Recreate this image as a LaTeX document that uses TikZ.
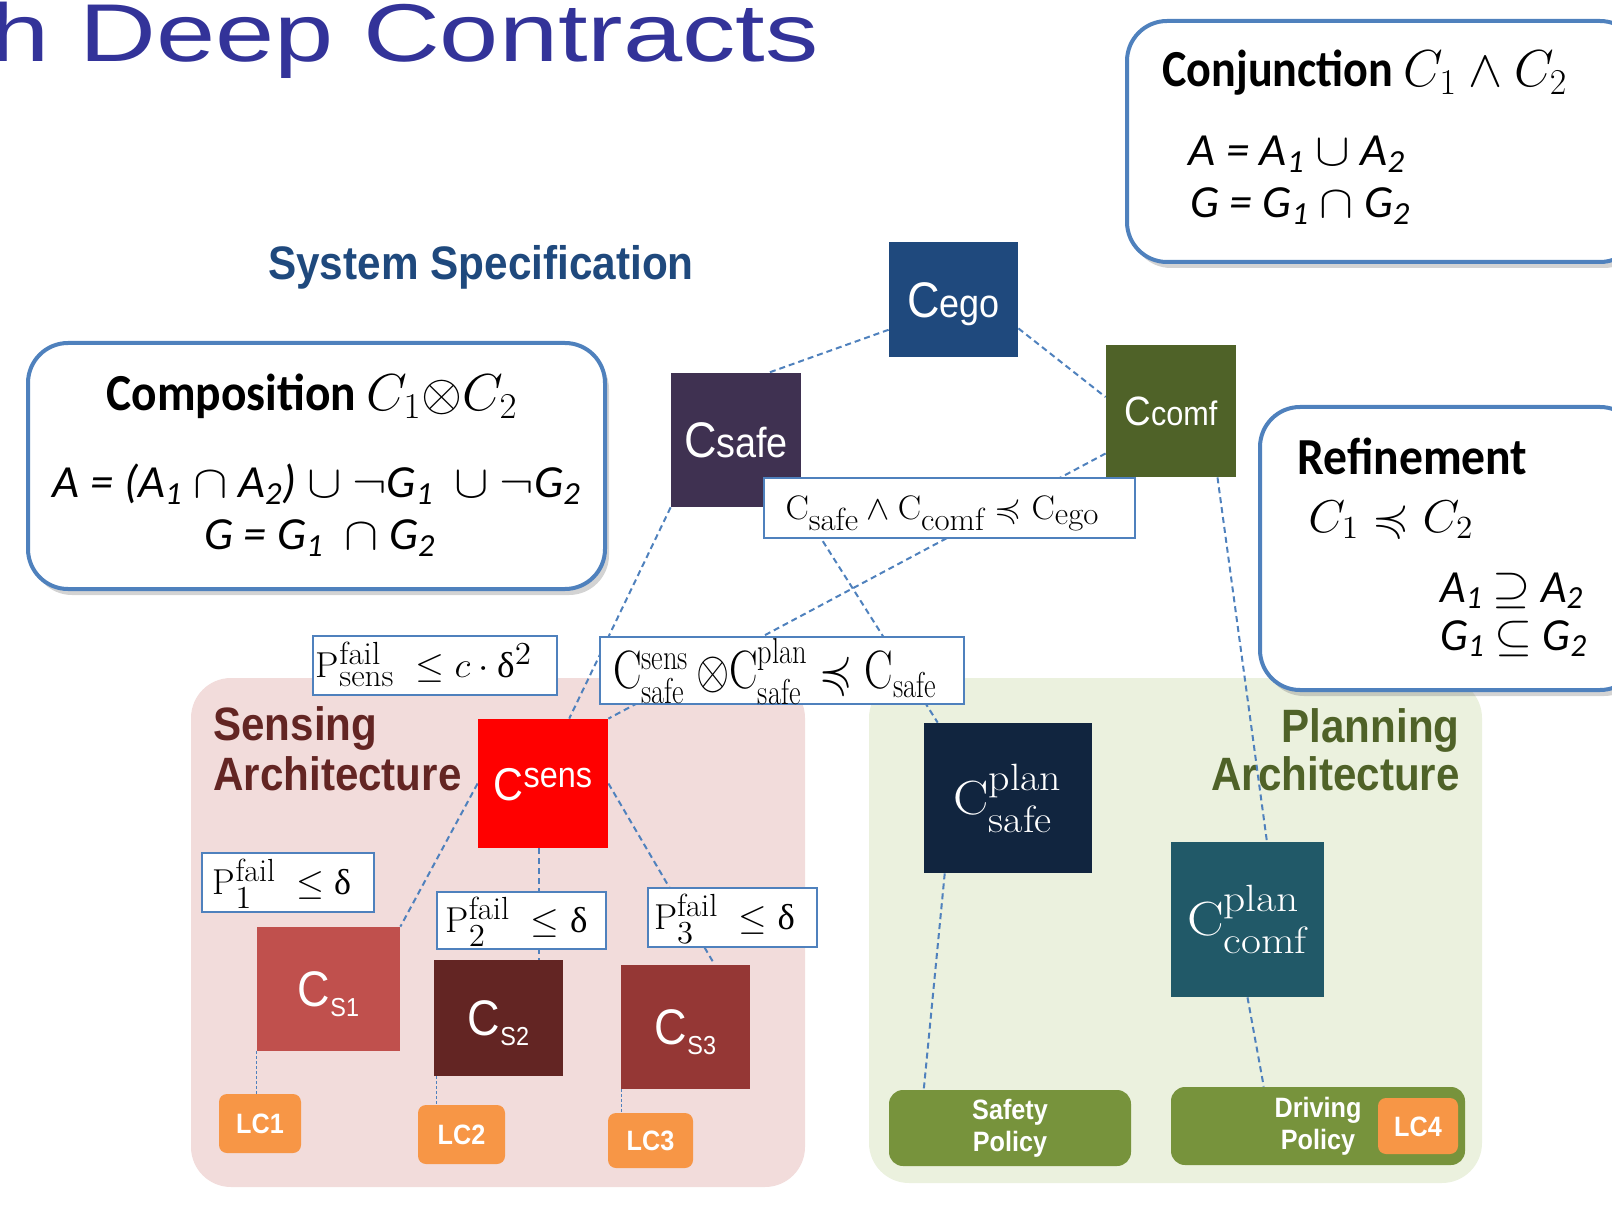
\documentclass[tikz,border=0pt]{standalone}
\usepackage{fix-cm}
\usepackage{amsmath, amssymb}
\usepackage{graphicx}
\usepackage{fontspec}
\usepackage{tikz}
\usetikzlibrary{positioning, shadows, backgrounds}
\newfontfamily\arial[FakeStretch=0.9]{Liberation Sans}
\newfontfamily\arialplain{Liberation Sans}
\newfontfamily\calibri[FakeStretch=0.9]{Carlito}
\newfontfamily\greekserif{Liberation Serif}
\DeclareMathSizes{17}{17}{16}{12}
\DeclareMathSizes{18}{18}{16}{12}
\DeclareMathSizes{24}{24}{19}{14}
\DeclareMathSizes{27}{27}{18}{13}
\newcommand{\fitw}[2]{\resizebox{#1}{\height}{#2}}
\definecolor{titleblue}{RGB}{51,51,153}
\definecolor{specblue}{RGB}{31,73,125}
\definecolor{linkblue}{RGB}{79,129,189}
\definecolor{egoblue}{RGB}{31,73,125}
\definecolor{safepurple}{RGB}{63,49,81}
\definecolor{comfgreen}{RGB}{79,98,40}
\definecolor{sensred}{RGB}{255,0,0}
\definecolor{plansafe}{RGB}{17,37,63}
\definecolor{plancomf}{RGB}{33,89,104}
\definecolor{sonered}{RGB}{192,80,77}
\definecolor{stwored}{RGB}{99,37,35}
\definecolor{sthreered}{RGB}{149,55,53}
\definecolor{lcorange}{RGB}{247,150,70}
\definecolor{policygreen}{RGB}{119,147,60}
\definecolor{sensbg}{RGB}{242,220,219}
\definecolor{planbg}{RGB}{235,241,222}
\definecolor{sensdark}{RGB}{99,37,35}
\definecolor{plandark}{RGB}{79,98,40}

\begin{document}
\begin{tikzpicture}[x=0.5pt, y=-0.5pt,
  contract/.style={rectangle, inner sep=0pt, text=white, text depth=0pt, font=\arial},
  lcbox/.style={rectangle, rounded corners=4pt, fill=lcorange, inner sep=0pt, text=white,
                text height=10pt, text depth=0pt, font={\arial\bfseries\fontsize{14}{16}\selectfont}},
  policy/.style={rectangle, rounded corners=7pt, fill=policygreen, inner sep=0pt, text=white,
                 align=center, font={\arial\bfseries\fontsize{14}{16}\selectfont}},
  fact/.style={rectangle, draw=linkblue, line width=0.75pt, fill=white, inner sep=0pt, text depth=0pt},
  infobox/.style={rectangle, draw=linkblue, line width=2pt, fill=white, rounded corners=20pt,
                  drop shadow={shadow xshift=2pt, shadow yshift=-3pt, opacity=0.35}},
  zone/.style={rectangle, rounded corners=20pt, inner sep=0pt},
  archtext/.style={inner sep=0pt, font={\arial\bfseries\fontsize{23.4}{26}\selectfont}},
  boxhead/.style={inner sep=0pt, font={\calibri\bfseries\fontsize{26}{30}\selectfont}},
  formula/.style={inner sep=0pt, font={\calibri\itshape\fontsize{23}{27}\selectfont}},
  dashlink/.style={draw=linkblue, line width=1pt, dash pattern=on 3pt off 2pt},
  finelink/.style={draw=linkblue, line width=0.5pt, dash pattern=on 1.5pt off 1pt}
]
\useasboundingbox (0,0) rectangle (1612,1208);

% slide title and heading
\node[anchor=base east, inner sep=0pt, text=titleblue, font={\arialplain\fontsize{41}{48}\selectfont}] (title) at (819,62) {\fitw{414pt}{h Deep Contracts}};
\node[anchor=base, inner sep=0pt, text=specblue, font={\arial\bfseries\fontsize{23.5}{28}\selectfont}] (spec) at (481,280) {System Specification};

% contract operators
\node[infobox, minimum width=256.5pt, minimum height=120.5pt] (conjbox) at (1383.5,141.5) {};
\node[boxhead, anchor=base west] (conjhead) at (1162,87) {\fitw{202.5pt}{Conjunction $C_1 \wedge C_2$}};
\node[formula, anchor=base west] (conja) at (1188,166) {\fitw{108.5pt}{A = A\textsubscript{1} $\cup$ A\textsubscript{2}}};
\node[formula, anchor=base west] (conjg) at (1190,218) {\fitw{110pt}{G = G\textsubscript{1} $\cap$ G\textsubscript{2}}};

\node[infobox, minimum width=288.5pt, minimum height=123pt] (compbox) at (316.5,466) {};
\node[boxhead, anchor=base] (comphead) at (312,411) {\fitw{205.5pt}{Composition $C_1{\otimes}C_2$}};
\node[formula, anchor=base] (compa) at (317,498) {\fitw{264pt}{A = (A\textsubscript{1} $\cap$ A\textsubscript{2}) $\cup$ $\neg$G\textsubscript{1}\ \ $\cup$ $\neg$G\textsubscript{2}}};
\node[formula, anchor=base] (compg) at (320,550) {\fitw{115.5pt}{G = G\textsubscript{1}\ \ $\cap$ G\textsubscript{2}}};

\node[infobox, minimum width=190pt, minimum height=141.5pt] (refbox) at (1450,548.5) {};
\node[boxhead, anchor=base west] (refhead) at (1297,475) {\fitw{115pt}{Refinement}};
\node[anchor=base west, inner sep=0pt, font=\fontsize{23}{27}\selectfont] (refc) at (1308,532) {\fitw{82.5pt}{$C_1 \preccurlyeq C_2$}};
\node[formula, anchor=base west] (refa) at (1440,602) {\fitw{71.5pt}{A\textsubscript{1} $\supseteq$ A\textsubscript{2}}};
\node[formula, anchor=base west] (refg) at (1440,650) {\fitw{73.5pt}{G\textsubscript{1} $\subseteq$ G\textsubscript{2}}};

% contracts
\node[contract, fill=egoblue, minimum width=64.5pt, minimum height=57.5pt, text height=17.9pt] (ego) at (953.5,299.5)
  {\fontsize{25}{30}\selectfont C\fontsize{20}{24}\selectfont ego};
\node[contract, fill=safepurple, minimum width=65pt, minimum height=67pt, text height=17.9pt] (safe) at (736,440)
  {\fontsize{25}{30}\selectfont C\fontsize{21}{25}\selectfont safe};
\node[contract, fill=comfgreen, minimum width=65pt, minimum height=66pt, text height=14.6pt] (comf) at (1171,411)
  {\fontsize{20.5}{24}\selectfont C\fontsize{17}{20}\selectfont comf};
\node[contract, fill=sensred, minimum width=65pt, minimum height=64.5pt, text height=16.5pt] (sens) at (543,783.5)
  {\fontsize{23}{28}\selectfont C\raisebox{6.5pt}{\fontsize{18}{22}\selectfont sens}};
\node[contract, fill=plansafe, minimum width=84pt, minimum height=75pt, text height=16.4pt, font=\fontsize{24}{28}\selectfont] (plansafe) at (1008,798)
  {\fitw{54.5pt}{$\mathrm{C}^{\mathrm{plan}}_{\mathrm{safe}}$}};
\node[contract, fill=plancomf, minimum width=76.5pt, minimum height=77.5pt, text height=16.4pt, font=\fontsize{24}{28}\selectfont] (plancomf) at (1247.5,919.5)
  {\fitw{60.5pt}{$\mathrm{C}^{\mathrm{plan}}_{\mathrm{comf}}$}};
\node[contract, fill=sonered, minimum width=71.5pt, minimum height=62pt, text height=17.9pt] (s1) at (328.5,989)
  {\fontsize{25}{30}\selectfont C\raisebox{-4.75pt}{\fontsize{13}{15}\selectfont S1}};
\node[contract, fill=stwored, minimum width=64.5pt, minimum height=58pt, text height=17.9pt] (s2) at (498.5,1018)
  {\fontsize{25}{30}\selectfont C\raisebox{-4.75pt}{\fontsize{13}{15}\selectfont S2}};
\node[contract, fill=sthreered, minimum width=64.5pt, minimum height=62pt, text height=17.9pt] (s3) at (685.5,1027)
  {\fontsize{25}{30}\selectfont C\raisebox{-4.75pt}{\fontsize{13}{15}\selectfont S3}};

% local components and policies
\node[lcbox, minimum width=41pt, minimum height=29.5pt] (lc1) at (260,1123.5) {LC1};
\node[lcbox, minimum width=43.5pt, minimum height=29.5pt] (lc2) at (461.5,1134.5) {LC2};
\node[lcbox, minimum width=42.5pt, minimum height=27.5pt] (lc3) at (650.5,1140.5) {LC3};
\node[policy, minimum width=121pt, minimum height=38pt] (safety) at (1010,1128) {Safety\\Policy};
\node[policy, minimum width=147pt, minimum height=39pt] (driving) at (1318,1126) {Driving\\Policy};
\node[lcbox, minimum width=40pt, minimum height=28pt, left=3.5pt of driving.east] (lc4) {LC4};

% refinement facts
\node[fact, minimum width=185.5pt, minimum height=30pt, text height=11.6pt, font=\fontsize{17}{20}\selectfont] (ruleego) at (949.5,508)
  {\fitw{157pt}{$\mathrm{C}_{\mathrm{safe}}\wedge\mathrm{C}_{\mathrm{comf}}\preccurlyeq\mathrm{C}_{\mathrm{ego}}$}\kern7pt};
\node[fact, minimum width=182pt, minimum height=33.5pt, text height=18.4pt, font=\fontsize{27}{32}\selectfont] (rulesafe) at (782,670.5)
  {\fitw{162pt}{$\mathrm{C}^{\mathrm{sens}}_{\mathrm{safe}}\,{\otimes}\mathrm{C}^{\mathrm{plan}}_{\mathrm{safe}}\preccurlyeq\mathrm{C}_{\mathrm{safe}}$}\kern7pt};
\node[fact, minimum width=122pt, minimum height=29.5pt, text height=12.3pt, font=\fontsize{18}{22}\selectfont] (psens) at (435,665.5)
  {\fitw{108pt}{$\mathrm{P}^{\mathrm{fail}}_{\mathrm{sens}}\;\leq c\cdot\text{\greekserif δ}^2$}\kern11pt};
\node[fact, minimum width=86pt, minimum height=29.5pt, text height=12.3pt, font=\fontsize{18}{22}\selectfont] (p1) at (288,882.5)
  {\fitw{69pt}{$\mathrm{P}^{\mathrm{fail}}_{1}\;\leq\text{\greekserif δ}$}\kern6pt};
\node[fact, minimum width=84.5pt, minimum height=28.5pt, text height=12.3pt, font=\fontsize{18}{22}\selectfont] (p2) at (521.5,920.5)
  {\fitw{71pt}{$\mathrm{P}^{\mathrm{fail}}_{2}\;\leq\text{\greekserif δ}$}\kern5pt};
\node[fact, minimum width=84.5pt, minimum height=29.5pt, text height=12.3pt, font=\fontsize{18}{22}\selectfont] (p3) at (732.5,917.5)
  {\fitw{70.5pt}{$\mathrm{P}^{\mathrm{fail}}_{3}\;\leq\text{\greekserif δ}$}\kern8pt};

\begin{scope}[on background layer]
% architectures
\node[zone, fill=sensbg, minimum width=307pt, minimum height=254.5pt] (sensarea) at (498,932.5) {};
\node[zone, fill=planbg, minimum width=306.5pt, minimum height=252.5pt] (planarea) at (1175.5,930.5) {};
\node[archtext, text=sensdark, anchor=base west] (senstitle) at (213,740) {Sensing};
\node[archtext, text=sensdark, anchor=base west] (sensarch) at (213,790) {Architecture};
\node[archtext, text=plandark, anchor=base east] (plantitle) at (1460,742) {Planning};
\node[archtext, text=plandark, anchor=base east] (planarch) at (1460,790) {Architecture};

% refinement links
\draw[dashlink] (ego.205) -- (safe.64);
\draw[dashlink] (ego.-24) -- (comf.168);
\draw[dashlink] (comf.213) -- (sens.north east);
\draw[dashlink] (safe.south west) -- (sens.68);
\draw[dashlink] (safe.south east) -- (plansafe.133);
\draw[dashlink] (comf.-55) -- (plancomf.76);
\draw[dashlink] (plansafe.230) -- (safety.156);
\draw[dashlink] (plancomf.south) -- (driving.144);
\draw[dashlink] (sens.west) -- (s1.north east);
\draw[dashlink] ([xshift=-2pt]sens.south) -- ([xshift=-2pt]sens.south |- s2.north);
\draw[dashlink] (sens.east) -- (s3.65);
\draw[finelink] (s1.south west) -- (s1.south west |- lc1.north);
\draw[finelink] ([xshift=1.5pt]s2.south west) -- ([xshift=1.5pt]s2.south west |- lc2.north);
\draw[finelink] ([xshift=0.5pt]s3.south west) -- ([xshift=0.5pt]s3.south west |- lc3.north);
\end{scope}
\end{tikzpicture}
\end{document}
